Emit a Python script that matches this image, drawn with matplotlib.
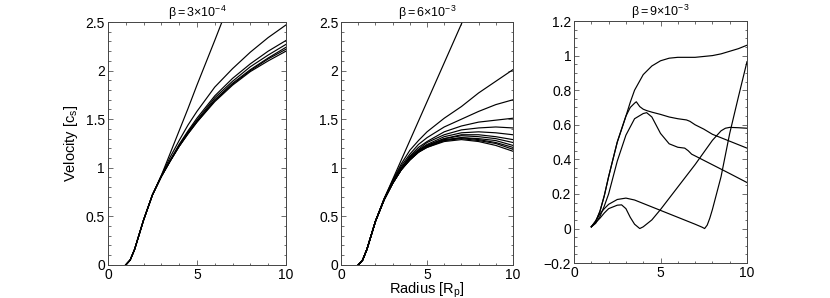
import numpy as np
import matplotlib
matplotlib.use('Agg')
import matplotlib.pyplot as plt
from matplotlib.ticker import MultipleLocator, FuncFormatter

plt.rcParams['font.family'] = ['Liberation Sans', 'DejaVu Sans']
plt.rcParams['mathtext.fontset'] = 'custom'
plt.rcParams['mathtext.rm'] = 'Liberation Sans'
plt.rcParams['mathtext.it'] = 'Liberation Sans'

# ---- data ----
titles = [r'$\mathregular{\beta{=}3{\times}10^{-4}}$',
          r'$\mathregular{\beta{=}6{\times}10^{-3}}$',
          r'$\mathregular{\beta{=}9{\times}10^{-3}}$']

r_grid = [1, 1.25, 1.5, 2, 2.5, 3, 3.5, 4, 4.5, 5, 6, 7, 8, 9, 10]

# beta = 3e-4
p1_steep_r = [1, 1.25, 1.5, 2, 2.5, 3, 3.5, 4, 4.5, 5, 6, 7]
p1_steep_v = [0, 0.05, 0.16, 0.46, 0.72, 0.92, 1.15, 1.38, 1.61, 1.85, 2.31, 2.78]
p1_v = [
    [0, 0.05, 0.16, 0.46, 0.72, 0.92, 1.11, 1.28, 1.44, 1.58, 1.83, 2.02, 2.19, 2.34, 2.47],
    [0, 0.05, 0.16, 0.46, 0.72, 0.91, 1.08, 1.24, 1.38, 1.51, 1.74, 1.92, 2.07, 2.20, 2.31],
    [0, 0.05, 0.16, 0.46, 0.72, 0.91, 1.07, 1.23, 1.37, 1.49, 1.72, 1.89, 2.04, 2.16, 2.27],
    [0, 0.05, 0.16, 0.46, 0.72, 0.91, 1.07, 1.22, 1.36, 1.48, 1.70, 1.87, 2.01, 2.13, 2.24],
    [0, 0.05, 0.16, 0.46, 0.72, 0.91, 1.07, 1.22, 1.35, 1.47, 1.69, 1.86, 2.00, 2.12, 2.22],
    [0, 0.05, 0.16, 0.46, 0.72, 0.91, 1.07, 1.22, 1.35, 1.47, 1.68, 1.85, 1.99, 2.10, 2.20],
]

# beta = 6e-3
p2_steep_r = [1, 1.25, 1.5, 2, 2.5, 3, 3.5, 4, 4.5, 5, 6, 7, 7.5]
p2_steep_v = [0, 0.05, 0.16, 0.45, 0.68, 0.88, 1.08, 1.28, 1.48, 1.68, 2.08, 2.48, 2.68]
p2_v = [
    [0, 0.05, 0.16, 0.45, 0.68, 0.87, 1.04, 1.18, 1.28, 1.37, 1.51, 1.63, 1.77, 1.89, 2.01],
    [0, 0.05, 0.16, 0.45, 0.68, 0.86, 1.02, 1.14, 1.24, 1.31, 1.42, 1.50, 1.58, 1.65, 1.70],
    [0, 0.05, 0.16, 0.45, 0.67, 0.85, 1.00, 1.12, 1.21, 1.27, 1.37, 1.43, 1.47, 1.49, 1.51],
    [0, 0.05, 0.16, 0.45, 0.67, 0.85, 1.00, 1.11, 1.19, 1.26, 1.34, 1.39, 1.41, 1.42, 1.41],
    [0, 0.05, 0.16, 0.45, 0.67, 0.85, 0.99, 1.10, 1.18, 1.24, 1.32, 1.36, 1.37, 1.36, 1.34],
    [0, 0.05, 0.16, 0.45, 0.67, 0.84, 0.99, 1.09, 1.18, 1.23, 1.30, 1.34, 1.34, 1.32, 1.29],
    [0, 0.05, 0.16, 0.45, 0.67, 0.84, 0.98, 1.09, 1.17, 1.23, 1.30, 1.33, 1.32, 1.30, 1.26],
    [0, 0.05, 0.16, 0.45, 0.67, 0.84, 0.98, 1.09, 1.17, 1.22, 1.29, 1.31, 1.30, 1.28, 1.23],
    [0, 0.05, 0.16, 0.45, 0.67, 0.84, 0.98, 1.08, 1.16, 1.22, 1.28, 1.31, 1.29, 1.26, 1.21],
    [0, 0.05, 0.16, 0.45, 0.67, 0.84, 0.98, 1.08, 1.16, 1.21, 1.28, 1.30, 1.28, 1.25, 1.19],
    [0, 0.05, 0.16, 0.45, 0.67, 0.84, 0.98, 1.08, 1.16, 1.21, 1.27, 1.29, 1.27, 1.23, 1.17],
]

# beta = 9e-3
p3_a_r = [1, 1.25, 1.5, 1.75, 2, 2.5, 3, 3.25, 3.5, 4, 4.5, 5, 5.5, 6, 7, 7.5, 8, 8.5, 9,
          9.5, 10]
p3_a_v = [0.01, 0.04, 0.1, 0.19, 0.3, 0.5, 0.65, 0.73, 0.80, 0.89, 0.94, 0.97, 0.985, 0.99,
          0.99, 0.995, 1.0, 1.01, 1.025, 1.04, 1.06]
p3_b_r = [1, 1.25, 1.5, 1.75, 2, 2.5, 3, 3.25, 3.5, 3.6, 3.8, 4, 4.2, 4.5, 5, 5.5, 6, 6.5,
          6.7, 7, 7.5, 8, 9, 10]
p3_b_v = [0.01, 0.04, 0.1, 0.19, 0.3, 0.5, 0.65, 0.70, 0.725, 0.733, 0.705, 0.69, 0.682,
          0.673, 0.66, 0.645, 0.635, 0.628, 0.62, 0.60, 0.575, 0.545, 0.505, 0.465]
p3_c_r = [1, 1.25, 1.5, 1.75, 2, 2.5, 3, 3.5, 4, 4.2, 4.5, 5, 5.5, 6, 6.4, 6.6, 6.8, 6.9, 7,
          8, 9, 10]
p3_c_v = [0.01, 0.03, 0.07, 0.13, 0.2, 0.39, 0.54, 0.635, 0.665, 0.67, 0.645, 0.55, 0.49,
          0.47, 0.465, 0.45, 0.43, 0.425, 0.42, 0.369, 0.318, 0.266]
p3_d_r = [1, 1.25, 1.5, 1.75, 2, 2.5, 3, 3.5, 4, 5, 6, 7, 7.4, 7.55, 7.7, 7.85, 8, 8.5, 9,
          9.5, 10]
p3_d_v = [0.01, 0.045, 0.085, 0.115, 0.14, 0.168, 0.176, 0.165, 0.145, 0.105, 0.065, 0.025,
          0.008, 0.0, 0.02, 0.06, 0.11, 0.30, 0.55, 0.76, 0.965]
p3_e_r = [1, 1.25, 1.5, 1.75, 2, 2.5, 2.75, 3, 3.25, 3.5, 3.8, 4, 4.5, 5, 6, 7, 7.5, 8, 8.5,
          8.75, 9, 9.5, 10]
p3_e_v = [0.01, 0.035, 0.06, 0.09, 0.115, 0.135, 0.137, 0.115, 0.065, 0.025, 0.0, 0.01,
          0.05, 0.11, 0.24, 0.37, 0.44, 0.51, 0.565, 0.58, 0.585, 0.583, 0.58]


def fmt(v, pos):
    s = f'{v:g}'
    return s.replace('-', '\u2212') if s != '-0' else '0'


fig = plt.figure(figsize=(8.3, 2.98), dpi=100)
ax1 = fig.add_axes([0.130, 0.111, 0.2145, 0.815])
ax2 = fig.add_axes([0.411, 0.111, 0.207, 0.815])
ax3 = fig.add_axes([0.6916, 0.117, 0.2084, 0.8125])

lw = 0.85
ax1.plot(p1_steep_r, p1_steep_v, color='black', lw=lw)
for v in p1_v:
    ax1.plot(r_grid, v, color='black', lw=lw)

ax2.plot(p2_steep_r, p2_steep_v, color='black', lw=lw)
for v in p2_v:
    ax2.plot(r_grid, v, color='black', lw=lw)

for rr, vv in [(p3_a_r, p3_a_v), (p3_b_r, p3_b_v), (p3_c_r, p3_c_v),
               (p3_d_r, p3_d_v), (p3_e_r, p3_e_v)]:
    ax3.plot(rr, vv, color='black', lw=lw)

for ax, title in zip([ax1, ax2, ax3], titles):
    ax.set_xlim(0, 10)
    ax.xaxis.set_major_locator(MultipleLocator(5))
    ax.xaxis.set_minor_locator(MultipleLocator(1))
    ax.yaxis.set_major_formatter(FuncFormatter(fmt))
    ax.xaxis.set_major_formatter(FuncFormatter(fmt))
    ax.tick_params(which='both', direction='in', top=True, right=True,
                   labelsize=10, color='#555555', width=0.6)
    ax.tick_params(which='major', length=3.5, pad=2)
    ax.tick_params(which='minor', length=1.8)
    for sp in ax.spines.values():
        sp.set_color('#444444')
        sp.set_linewidth(0.7)
    ax.set_title(title, fontsize=9, pad=3)

for ax in [ax1, ax2]:
    ax.set_ylim(0, 2.5)
    ax.yaxis.set_major_locator(MultipleLocator(0.5))
    ax.yaxis.set_minor_locator(MultipleLocator(0.1))

ax3.set_ylim(-0.2, 1.2)
ax3.yaxis.set_major_locator(MultipleLocator(0.2))
ax3.yaxis.set_minor_locator(MultipleLocator(0.05))

ax1.set_ylabel(r'Velocity [c$_\mathregular{s}$]', fontsize=10.5, labelpad=4)
ax2.set_xlabel(r'Radius [R$_\mathregular{p}$]', fontsize=10.5, labelpad=-1)

fig.savefig('out.png', dpi=100)
